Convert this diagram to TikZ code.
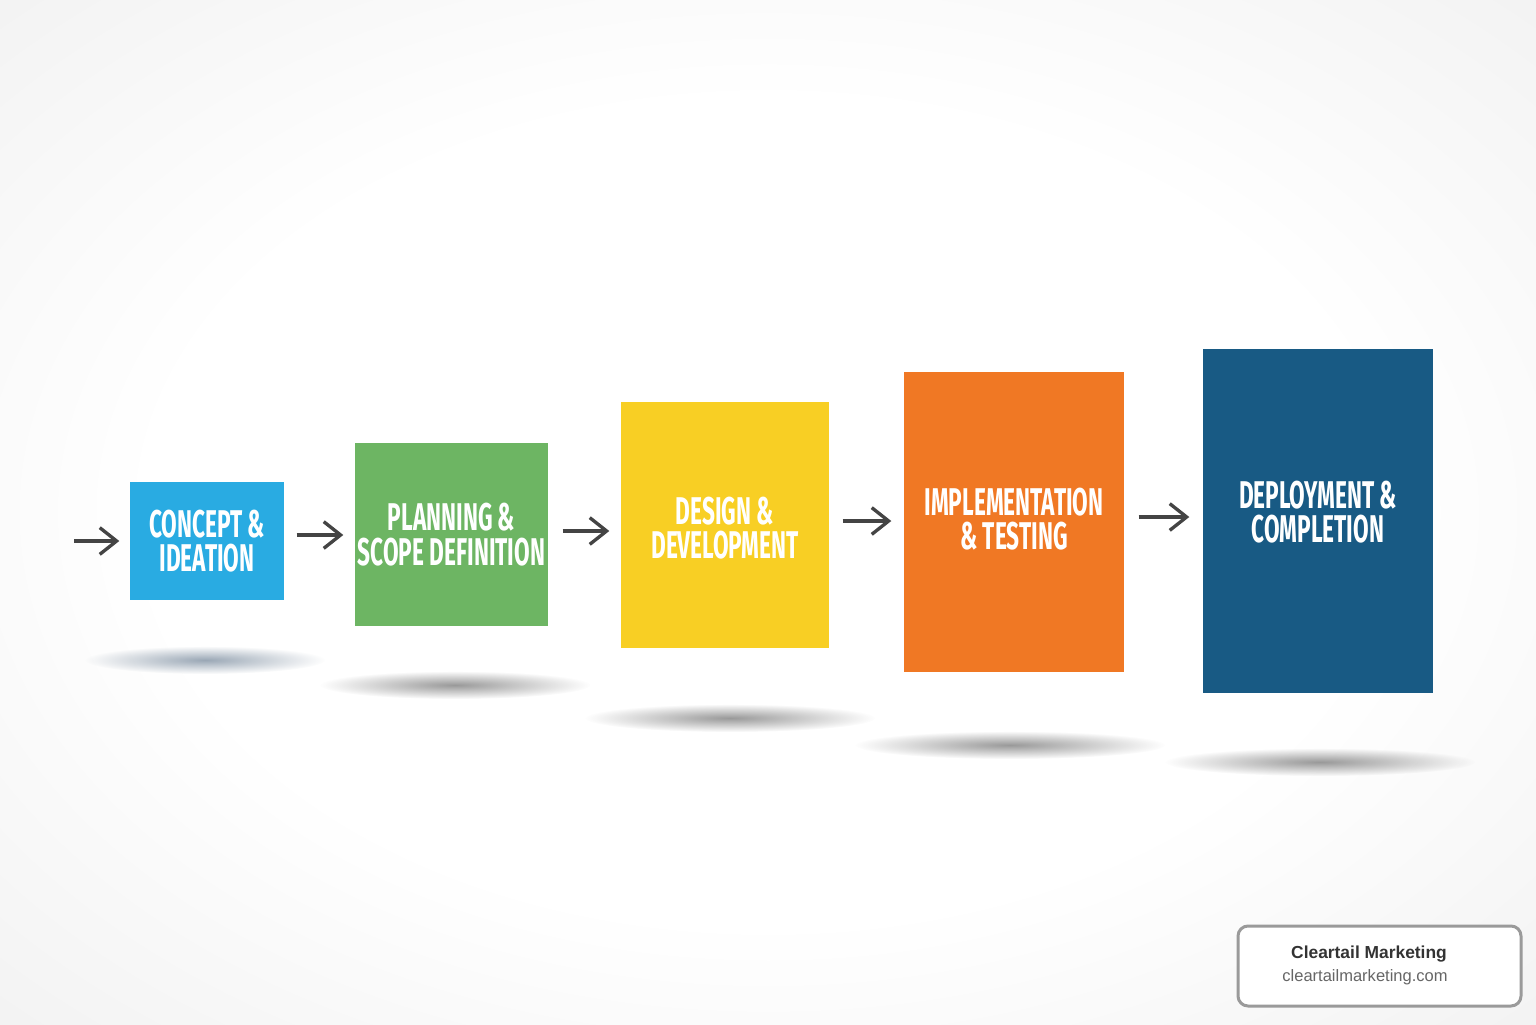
\documentclass[tikz,border=0pt]{standalone}
\usepackage{fontspec}
\setmainfont{Liberation Sans}
\newfontfamily\phasefont{Fira Sans}[UprightFont=* Bold, FakeStretch=0.585]
\usetikzlibrary{arrows.meta,fadings}

\definecolor{conceptblue}{HTML}{29ABE2}
\definecolor{planninggreen}{HTML}{6DB563}
\definecolor{designyellow}{HTML}{F8CF24}
\definecolor{implorange}{HTML}{F07824}
\definecolor{deploynavy}{HTML}{185A84}
\definecolor{arrowgray}{HTML}{444444}
\definecolor{bggray}{HTML}{DFDFDF}
\definecolor{logoborder}{HTML}{9A9A9A}
\definecolor{shadowblue}{HTML}{6F8296}
\definecolor{shadowgray}{HTML}{6E6E6E}

\pgfdeclareradialshading{vignette}{\pgfpoint{0bp}{0bp}}{color(0bp)=(white); color(20bp)=(white); color(50bp)=(bggray!75); color(72bp)=(bggray)}
\tikzfading[name=shadowfade, inner color=transparent!30, outer color=transparent!100]

\begin{document}
\begin{tikzpicture}[
		phasebox/.style={rectangle, draw=none, inner sep=0pt},
		phasetext/.style={text=white, align=center, inner sep=0pt,
			font=\phasefont\fontsize{11}{9.8}\selectfont},
		flow/.style={draw=arrowgray, line width=0.95pt,
			-{Straight Barb[length=4.8pt, width=7.6pt, line width=0.95pt]}},
		floorshadow/.style={path fading=shadowfade},
		logobox/.style={rectangle, rounded corners=0.1cm, draw=logoborder,
			line width=0.85pt, fill=white, minimum width=2.83cm, minimum height=0.80cm}
		]
		\useasboundingbox (0,0) rectangle (15.36,10.24);
		\shade[shading=vignette] (0,0) rectangle (15.36,10.24);
		
		% shadows on the floor
		\fill[floorshadow, fill=shadowblue] (2.05,3.64) ellipse (1.2 and 0.14);
		\fill[floorshadow, fill=shadowgray] (4.55,3.39) ellipse (1.35 and 0.14);
		\fill[floorshadow, fill=shadowgray] (7.30,3.06) ellipse (1.45 and 0.14);
		\fill[floorshadow, fill=shadowgray] (10.10,2.79) ellipse (1.55 and 0.14);
		\fill[floorshadow, fill=shadowgray] (13.20,2.62) ellipse (1.55 and 0.14);
		
		% phases
		\node[phasebox, fill=conceptblue, minimum width=1.54cm, minimum height=1.18cm](b1) at (2.07,4.83){};
		\node[phasebox, fill=planninggreen, minimum width=1.93cm, minimum height=1.83cm](b2) at (4.515,4.895){};
		\node[phasebox, fill=designyellow, minimum width=2.08cm, minimum height=2.46cm](b3) at (7.25,4.99){};
		\node[phasebox, fill=implorange, minimum width=2.20cm, minimum height=3.00cm](b4) at (10.14,5.02){};
		\node[phasebox, fill=deploynavy, minimum width=2.30cm, minimum height=3.44cm](b5) at (13.18,5.03){};
		
		\node[phasetext](t1) at (b1){CONCEPT \&\\IDEATION};
		\node[phasetext](t2) at (b2){PLANNING \&\\SCOPE DEFINITION};
		\node[phasetext, yshift=-0.03cm](t3) at (b3){DESIGN \&\\DEVELOPMENT};
		\node[phasetext, yshift=0.03cm](t4) at (b4){IMPLEMENTATION\\\& TESTING};
		\node[phasetext, yshift=0.09cm](t5) at (b5){DEPLOYMENT \&\\COMPLETION};
		
		% arrows between phases
		\coordinate (start) at (0.74,4.83);
		\draw[flow, shorten >=0.10cm] (start) -- (b1.west |- start);
		\draw[flow, shorten <=0.12cm, shorten >=0.11cm] (b1.east |- 0,4.89) -- (b2.west |- 0,4.89);
		\draw[flow, shorten <=0.14cm, shorten >=0.11cm] (b2.east |- 0,4.93) -- (b3.west |- 0,4.93);
		\draw[flow, shorten <=0.13cm, shorten >=0.12cm] (b3.east |- 0,5.03) -- (b4.west |- 0,5.03);
		\draw[flow, shorten <=0.14cm, shorten >=0.13cm] (b4.east |- 0,5.07) -- (b5.west |- 0,5.07);
		
		% brand box
		\node[logobox](logo) at (13.795,0.58){};
		\node[text=black!80, font=\bfseries\fontsize{4.95}{6}\selectfont](brand) at (13.69,0.70){Cleartail Marketing};
		\node[text=black!60, font=\fontsize{4.7}{6}\selectfont](url) at (13.65,0.47){cleartailmarketing.com};
	\end{tikzpicture}
\end{document}
